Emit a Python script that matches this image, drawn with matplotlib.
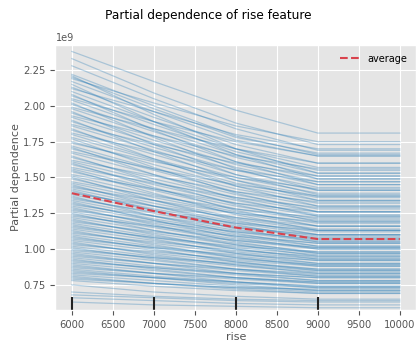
import numpy as np
import matplotlib
matplotlib.use("Agg")
import matplotlib.pyplot as plt

plt.style.use("ggplot")

# grid values of the "rise" feature
rise_grid = [6000, 7000, 8000, 9000, 10000]
rise_deciles = [6000, 7000, 8000, 9000]

# ICE curves, partial dependence in units of 1e9 (one row per sample)
ice_curves = [
    [2.38, 2.17, 1.97, 1.81, 1.81],
    [2.33, 2.09, 1.88, 1.73, 1.73],
    [2.28, 2.05, 1.84, 1.69, 1.69],
    [2.22, 2.00, 1.79, 1.66, 1.66],
    [2.20, 1.98, 1.78, 1.67, 1.67],
    [2.17, 1.96, 1.76, 1.65, 1.65],
    [2.13, 1.92, 1.73, 1.60, 1.60],
    [2.10, 1.89, 1.70, 1.57, 1.57],
    [2.07, 1.87, 1.68, 1.55, 1.55],
    [2.04, 1.84, 1.66, 1.53, 1.53],
    [2.01, 1.82, 1.64, 1.51, 1.51],
    [1.98, 1.79, 1.61, 1.49, 1.49],
    [1.95, 1.76, 1.59, 1.47, 1.47],
    [1.92, 1.74, 1.57, 1.45, 1.45],
    [1.89, 1.71, 1.55, 1.43, 1.43],
    [1.86, 1.69, 1.52, 1.41, 1.41],
    [1.83, 1.66, 1.50, 1.39, 1.39],
    [1.80, 1.63, 1.48, 1.37, 1.37],
    [1.78, 1.62, 1.46, 1.36, 1.36],
    [1.75, 1.59, 1.44, 1.34, 1.34],
    [1.72, 1.56, 1.42, 1.32, 1.32],
    [1.70, 1.55, 1.40, 1.30, 1.30],
    [1.67, 1.52, 1.38, 1.28, 1.28],
    [1.64, 1.49, 1.36, 1.26, 1.26],
    [1.61, 1.47, 1.34, 1.24, 1.24],
    [1.59, 1.45, 1.32, 1.23, 1.23],
    [1.56, 1.42, 1.30, 1.21, 1.21],
    [1.54, 1.41, 1.28, 1.20, 1.20],
    [1.51, 1.38, 1.26, 1.18, 1.18],
    [1.49, 1.36, 1.25, 1.16, 1.16],
    [1.46, 1.34, 1.22, 1.14, 1.14],
    [1.44, 1.32, 1.21, 1.13, 1.13],
    [1.42, 1.30, 1.19, 1.12, 1.12],
    [1.40, 1.28, 1.18, 1.10, 1.10],
    [1.38, 1.27, 1.16, 1.09, 1.09],
    [1.36, 1.25, 1.15, 1.08, 1.08],
    [1.34, 1.23, 1.13, 1.06, 1.06],
    [1.32, 1.21, 1.12, 1.05, 1.05],
    [1.30, 1.20, 1.10, 1.04, 1.04],
    [1.28, 1.18, 1.09, 1.02, 1.02],
    [1.26, 1.16, 1.07, 1.01, 1.01],
    [1.24, 1.15, 1.06, 1.00, 1.00],
    [1.22, 1.13, 1.04, 0.98, 0.98],
    [1.20, 1.11, 1.03, 0.97, 0.97],
    [1.18, 1.09, 1.01, 0.96, 0.96],
    [1.16, 1.08, 1.00, 0.94, 0.94],
    [1.14, 1.06, 0.98, 0.93, 0.93],
    [1.12, 1.04, 0.97, 0.92, 0.92],
    [1.10, 1.02, 0.95, 0.90, 0.90],
    [1.08, 1.01, 0.94, 0.89, 0.89],
    [1.06, 0.99, 0.92, 0.88, 0.88],
    [1.04, 0.97, 0.91, 0.86, 0.86],
    [1.02, 0.95, 0.89, 0.85, 0.85],
    [1.00, 0.94, 0.88, 0.84, 0.84],
    [0.98, 0.92, 0.86, 0.82, 0.82],
    [0.96, 0.90, 0.85, 0.81, 0.81],
    [0.94, 0.88, 0.83, 0.80, 0.80],
    [0.92, 0.87, 0.82, 0.78, 0.78],
    [0.90, 0.85, 0.80, 0.77, 0.77],
    [0.88, 0.83, 0.79, 0.76, 0.76],
    [0.86, 0.81, 0.77, 0.74, 0.74],
    [0.84, 0.80, 0.76, 0.73, 0.73],
    [0.82, 0.78, 0.74, 0.71, 0.71],
    [0.80, 0.76, 0.73, 0.70, 0.70],
    [0.78, 0.74, 0.71, 0.69, 0.69],
    [0.70, 0.67, 0.65, 0.64, 0.64],
    [0.66, 0.64, 0.62, 0.61, 0.61],
    [0.63, 0.61, 0.60, 0.59, 0.59],
    [2.21, 1.94, 1.70, 1.53, 1.53],
    [2.19, 2.02, 1.86, 1.75, 1.75],
    [2.15, 1.89, 1.66, 1.49, 1.49],
    [2.12, 1.96, 1.80, 1.70, 1.70],
    [2.08, 1.83, 1.61, 1.45, 1.45],
    [2.05, 1.89, 1.75, 1.65, 1.65],
    [2.02, 1.78, 1.56, 1.41, 1.41],
    [1.99, 1.84, 1.70, 1.60, 1.60],
    [1.96, 1.73, 1.52, 1.38, 1.38],
    [1.93, 1.79, 1.65, 1.56, 1.56],
    [1.90, 1.68, 1.48, 1.34, 1.34],
    [1.87, 1.73, 1.60, 1.51, 1.51],
    [1.84, 1.63, 1.44, 1.30, 1.30],
    [1.81, 1.68, 1.55, 1.47, 1.47],
    [1.77, 1.57, 1.39, 1.26, 1.26],
    [1.74, 1.61, 1.50, 1.42, 1.42],
    [1.71, 1.52, 1.35, 1.23, 1.23],
    [1.68, 1.56, 1.45, 1.37, 1.37],
    [1.65, 1.47, 1.31, 1.19, 1.19],
    [1.62, 1.51, 1.40, 1.33, 1.33],
    [1.60, 1.43, 1.27, 1.16, 1.16],
    [1.57, 1.46, 1.36, 1.29, 1.29],
    [1.55, 1.39, 1.24, 1.13, 1.13],
    [1.52, 1.42, 1.32, 1.26, 1.26],
    [1.50, 1.34, 1.20, 1.10, 1.10],
    [1.47, 1.37, 1.28, 1.22, 1.22],
    [1.45, 1.30, 1.17, 1.07, 1.07],
    [1.43, 1.34, 1.25, 1.19, 1.19],
    [1.41, 1.27, 1.14, 1.05, 1.05],
    [1.39, 1.30, 1.22, 1.16, 1.16],
    [1.37, 1.23, 1.11, 1.02, 1.02],
    [1.35, 1.26, 1.18, 1.13, 1.13],
    [1.33, 1.20, 1.08, 1.00, 1.00],
    [1.31, 1.23, 1.15, 1.10, 1.10],
    [1.29, 1.17, 1.05, 0.97, 0.97],
    [1.27, 1.19, 1.12, 1.07, 1.07],
    [1.25, 1.13, 1.03, 0.95, 0.95],
    [1.23, 1.16, 1.09, 1.04, 1.04],
    [1.21, 1.10, 1.00, 0.93, 0.93],
    [1.19, 1.12, 1.06, 1.01, 1.01],
    [1.17, 1.07, 0.97, 0.90, 0.90],
    [1.15, 1.08, 1.02, 0.98, 0.98],
    [1.13, 1.03, 0.94, 0.88, 0.88],
    [1.11, 1.05, 0.99, 0.95, 0.95],
    [1.09, 1.00, 0.91, 0.85, 0.85],
    [1.07, 1.01, 0.96, 0.92, 0.92],
    [1.05, 0.96, 0.89, 0.83, 0.83],
    [1.03, 0.98, 0.93, 0.89, 0.89],
    [1.01, 0.93, 0.86, 0.81, 0.81],
    [0.99, 0.94, 0.90, 0.86, 0.86],
    [0.97, 0.90, 0.83, 0.78, 0.78],
    [0.95, 0.90, 0.86, 0.83, 0.83],
    [0.93, 0.86, 0.80, 0.76, 0.76],
    [0.91, 0.87, 0.83, 0.80, 0.80],
    [0.89, 0.83, 0.77, 0.73, 0.73],
    [0.87, 0.83, 0.80, 0.77, 0.77],
    [0.85, 0.80, 0.75, 0.71, 0.71],
    [0.83, 0.80, 0.77, 0.74, 0.74],
    [0.81, 0.76, 0.72, 0.69, 0.69],
    [0.79, 0.76, 0.73, 0.72, 0.72],
    [0.75, 0.70, 0.67, 0.65, 0.65],
    [0.68, 0.66, 0.64, 0.63, 0.63],
]

# average partial dependence (1e9)
average_pd = [1.39, 1.265, 1.15, 1.07, 1.07]

scale = 1e9

fig = plt.figure(figsize=(4.17, 3.49), dpi=100)
ax = fig.add_axes([0.133, 0.112, 0.865, 0.759])

for curve in ice_curves:
    ax.plot(rise_grid, np.array(curve) * scale, color="tab:blue", alpha=0.3, linewidth=0.9)

ax.plot(rise_grid, np.array(average_pd) * scale, color="#d9434d", linestyle="--",
        linewidth=1.5, label="average")

# deciles rug
ax.vlines(rise_deciles, 0, 0.05, transform=ax.get_xaxis_transform(), color="#222222", linewidth=1.5)

ax.set_xlim(5800, 10200)
ax.set_ylim(0.575 * scale, 2.425 * scale)
ax.set_xticks(np.arange(6000, 10001, 500))
ax.set_yticks(np.arange(0.75, 2.26, 0.25) * scale)
ax.tick_params(labelsize=7.2)
ax.yaxis.get_offset_text().set_fontsize(7)

ax.set_xlabel("rise", fontsize=8, labelpad=2)
ax.set_ylabel("Partial dependence", fontsize=8, labelpad=2)
leg = ax.legend(loc="upper right", fontsize=7, frameon=False)
fig.suptitle("Partial dependence of rise feature", fontsize=8.7, y=0.975)

plt.savefig("out.png", dpi=100)
